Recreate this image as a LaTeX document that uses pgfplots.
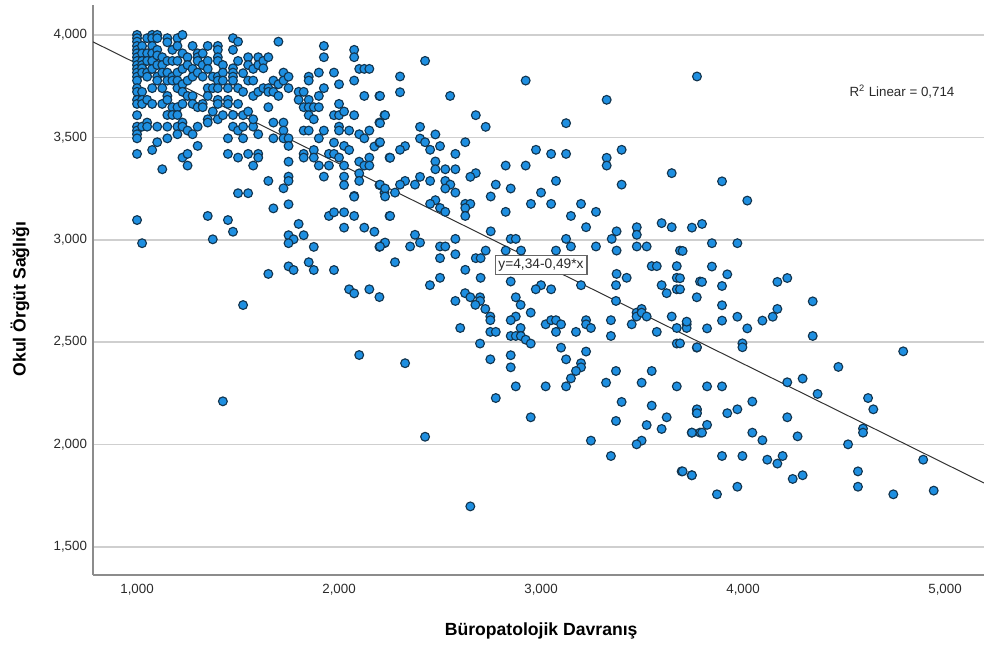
\documentclass[border=0pt]{standalone}
\usepackage{fontspec}
\setmainfont{Liberation Sans}
\usepackage{pgfplots}
\pgfplotsset{compat=1.18}
\definecolor{pt}{HTML}{1E8FE1}
\definecolor{ptedge}{HTML}{12354F}
\definecolor{gridc}{HTML}{CFCFCF}
\definecolor{axc}{HTML}{8C8C8C}
\definecolor{txt}{HTML}{2A2A2A}
\begin{document}
\begin{tikzpicture}[x=1pt,y=1pt]
\path[use as bounding box] (-69.75pt,-53.25pt) rectangle (668.25pt,431.25pt);
\begin{axis}[
 scale only axis, width=668.25pt, height=427.5pt,
 xmin=0.782, xmax=5.193, ymin=1.363, ymax=4.146,
 axis x line*=bottom, axis y line*=left,
 axis line style={axc, line width=1.2pt, -},
 ymajorgrids, grid style={gridc, line width=1.2pt},
 major tick length=0pt,
 xtick={1,2,3,4,5}, xticklabels={{1,000},{2,000},{3,000},{4,000},{5,000}},
 ytick={1.5,2,2.5,3,3.5,4}, yticklabels={{1,500},{2,000},{2,500},{3,000},{3,500},{4,000}},
 tick label style={font=\fontsize{10pt}{12pt}\selectfont, text=txt},
 xticklabel style={yshift=-3pt}, yticklabel style={xshift=-1pt},
 xlabel={Büropatolojik Davranış}, ylabel={Okul Örgüt Sağlığı},
 label style={font=\fontsize{13.2pt}{15pt}\selectfont\bfseries, text=black},
 xlabel style={at={(axis description cs:0.503,-0.098)}, anchor=center},
 ylabel style={at={(axis description cs:-0.082,0.484)}, anchor=center},
 clip=false,
]
\addplot[only marks, mark=*, mark size=3.3pt, mark options={fill=pt, draw=ptedge, line width=0.85pt}] coordinates {
(1,4)(1,3.984)(1,3.967)(1,3.946)(1,3.927)(1,3.91)(1,3.891)(1,3.873)(1,3.853)(1,3.834)(1,3.816)(1,3.796)(1,3.777)(1,3.74)(1,3.722)(1,3.683)(1,3.663)(1,3.608)(1,3.552)(1,3.533)(1,3.515)(1,3.495)(1,3.419)
(1.025,3.946)(1.025,3.91)(1.025,3.873)(1.025,3.853)(1.025,3.837)(1.025,3.816)(1.025,3.722)(1.025,3.683)(1.025,3.663)(1.025,3.552)
(1.05,3.984)(1.05,3.91)(1.05,3.873)(1.05,3.816)(1.05,3.796)(1.05,3.683)(1.05,3.572)(1.05,3.552)
(1.075,4)(1.075,3.984)(1.075,3.946)(1.075,3.91)(1.075,3.873)(1.075,3.834)(1.075,3.74)(1.075,3.663)(1.075,3.438)
(1.1,4)(1.1,3.984)(1.1,3.927)(1.1,3.9)(1.1,3.853)(1.1,3.796)(1.1,3.777)(1.1,3.552)(1.1,3.476)
(1.125,3.891)(1.125,3.853)(1.125,3.816)(1.125,3.74)(1.125,3.663)(1.125,3.344)
(1.15,3.984)(1.15,3.964)(1.15,3.873)(1.15,3.816)(1.15,3.777)(1.15,3.702)(1.15,3.683)(1.15,3.609)(1.15,3.552)(1.15,3.495)
(1.175,3.927)(1.175,3.873)(1.175,3.796)(1.175,3.777)(1.175,3.647)(1.175,3.609)
(1.2,3.984)(1.2,3.946)(1.2,3.873)(1.2,3.816)(1.2,3.777)(1.2,3.74)(1.2,3.647)(1.2,3.609)(1.2,3.552)(1.2,3.515)
(1.225,4)(1.225,3.91)(1.225,3.834)(1.225,3.759)(1.225,3.722)(1.225,3.663)(1.225,3.572)(1.225,3.552)(1.225,3.401)
(1.25,3.891)(1.25,3.853)(1.25,3.777)(1.25,3.702)(1.25,3.533)(1.25,3.419)(1.25,3.362)
(1.275,3.946)(1.275,3.834)(1.275,3.796)(1.275,3.702)(1.275,3.663)(1.275,3.515)
(1.3,3.91)(1.3,3.891)(1.3,3.873)(1.3,3.816)(1.3,3.647)(1.3,3.552)(1.3,3.458)
(1.325,3.91)(1.325,3.853)(1.325,3.796)(1.325,3.663)(1.325,3.647)
(1.35,3.946)(1.35,3.873)(1.35,3.834)(1.35,3.74)(1.35,3.702)(1.35,3.588)(1.35,3.572)
(1.375,3.796)(1.375,3.74)(1.375,3.626)
(1.4,3.946)(1.4,3.927)(1.4,3.891)(1.4,3.873)(1.4,3.796)(1.4,3.777)(1.4,3.74)(1.4,3.683)(1.4,3.663)(1.4,3.588)
(1.425,3.853)(1.425,3.816)(1.425,3.777)(1.425,3.608)
(1.45,3.74)(1.45,3.683)(1.45,3.663)(1.45,3.495)(1.45,3.419)
(1.475,3.984)(1.475,3.927)(1.475,3.837)(1.475,3.816)(1.475,3.796)(1.475,3.777)(1.475,3.609)(1.475,3.552)
(1.5,3.967)(1.5,3.873)(1.5,3.74)(1.5,3.663)(1.5,3.533)(1.5,3.401)
(1.525,3.813)(1.525,3.722)(1.525,3.608)(1.525,3.552)(1.525,3.495)
(1.55,3.891)(1.55,3.853)(1.55,3.777)(1.55,3.626)(1.55,3.419)
(1.575,3.834)(1.575,3.777)(1.575,3.702)(1.575,3.552)(1.575,3.588)(1.575,3.362)
(1.6,3.891)(1.6,3.853)(1.6,3.722)(1.6,3.515)(1.6,3.419)(1.6,3.401)
(1.625,3.873)(1.625,3.837)(1.625,3.74)
(1.65,3.891)(1.65,3.74)(1.65,3.722)(1.65,3.647)(1.65,3.287)
(1.675,3.777)(1.675,3.722)(1.675,3.572)(1.675,3.495)
(1.7,3.967)(1.7,3.759)(1.7,3.702)
(1.725,3.816)(1.725,3.777)(1.725,3.572)(1.725,3.533)(1.725,3.495)(1.725,3.251)
(1.75,3.796)(1.75,3.74)(1.75,3.495)(1.75,3.458)(1.75,3.381)(1.75,3.308)(1.75,3.287)
(1.8,3.722)(1.8,3.683)
(1.825,3.722)(1.825,3.647)(1.825,3.533)(1.825,3.419)(1.825,3.401)
(1.85,3.796)(1.85,3.777)(1.85,3.683)(1.85,3.647)(1.85,3.608)(1.85,3.533)
(1.875,3.647)(1.875,3.588)(1.875,3.438)(1.875,3.401)
(1.9,3.816)(1.9,3.702)(1.9,3.647)(1.9,3.495)(1.9,3.362)
(1.925,3.946)(1.925,3.891)(1.925,3.74)(1.925,3.533)(1.925,3.308)
(1.95,3.419)(1.95,3.362)
(1.975,3.816)(1.975,3.608)(1.975,3.474)(1.975,3.419)
(2,3.759)(2,3.663)(2,3.608)(2,3.552)(2,3.533)(2,3.401)
(2.025,3.626)(2.025,3.458)(2.025,3.362)(2.025,3.308)(2.025,3.267)
(2.05,3.533)(2.05,3.438)
(2.075,3.927)(2.075,3.891)(2.075,3.777)(2.075,3.608)(2.075,3.214)
(2.1,3.834)(2.1,3.515)(2.1,3.381)(2.1,3.324)(2.1,3.287)
(2.125,3.834)(2.125,3.702)(2.125,3.495)(2.125,3.362)
(2.15,3.834)(2.15,3.533)(2.15,3.401)(2.15,3.362)
(2.175,3.455)(2.2,3.702)(2.2,3.572)(2.2,3.474)(2.2,3.267)
(2.225,3.608)(2.225,3.23)(2.25,3.401)
(1.5,3.227)(1.55,3.227)(1.675,3.153)(1.75,3.173)(2.075,3.21)
(1,3.096)(1.35,3.116)(1.45,3.096)(1.475,3.039)(1.375,3.002)(1.025,2.983)(1.8,3.077)(1.75,3.022)(1.825,3.022)(1.775,3.002)(1.75,2.983)(1.875,2.965)(1.95,3.116)(1.975,3.134)(2.025,3.134)(2.075,3.116)(2.025,3.059)(2.125,3.059)(2.175,3.039)(2.25,3.116)(2.225,2.983)(2.2,2.965)(1.85,2.89)(1.75,2.87)(1.775,2.852)(1.875,2.852)(1.975,2.852)(1.65,2.833)(2.05,2.758)(2.075,2.738)(2.15,2.758)(2.2,2.72)(1.525,2.681)(2.1,2.437)(1.425,2.211)
(2.426,3.873)(2.302,3.797)(2.302,3.72)(2.203,3.702)(2.228,3.608)(2.203,3.569)(2.55,3.702)(2.924,3.777)(3.325,3.683)(2.677,3.608)(2.726,3.551)(3.124,3.569)(2.401,3.551)(2.477,3.514)(2.401,3.494)(2.426,3.476)(2.5,3.457)(2.451,3.439)(2.625,3.476)(2.576,3.419)(2.327,3.457)(2.302,3.439)(2.253,3.4)(2.203,3.476)(2.477,3.382)(2.477,3.344)(2.526,3.344)(2.576,3.344)(2.975,3.439)(3.05,3.419)(3.124,3.419)(3.325,3.4)(3.325,3.362)(3.399,3.439)(2.825,3.362)(2.924,3.362)(3.647,3.325)(2.677,3.325)(2.65,3.307)(2.401,3.307)(2.451,3.287)(2.526,3.287)(2.551,3.269)(2.526,3.25)(2.576,3.23)(2.376,3.269)(2.327,3.287)(2.302,3.269)(2.203,3.269)(2.228,3.25)(2.277,3.23)(2.228,3.211)(2.776,3.269)(2.85,3.25)(2.751,3.211)(3.074,3.287)(3.399,3.269)(3,3.23)(2.95,3.175)(3.05,3.175)(3.198,3.175)(2.477,3.193)(2.451,3.175)(2.5,3.155)(2.526,3.136)(2.625,3.175)(2.65,3.175)(2.625,3.155)(2.625,3.116)(2.253,3.116)(2.825,3.136)(3.148,3.116)(3.272,3.136)(3.223,3.061)(3.597,3.081)(3.647,3.061)(3.474,3.061)(3.474,3.024)(3.374,3.041)(3.35,3.004)(2.751,3.041)(2.376,3.024)(2.228,2.986)(2.203,2.967)(2.401,2.986)(2.352,2.967)(2.576,3.004)(2.5,2.967)(2.526,2.967)(2.85,3.004)(2.875,3.004)(3.124,3.004)(3.148,2.967)(3.272,2.967)(3.474,2.967)(3.523,2.967)(3.374,2.947)(2.726,2.947)(2.825,2.947)(2.901,2.947)(3.074,2.947)(3.688,2.947)(2.576,2.929)(2.5,2.91)(2.677,2.91)(2.701,2.91)(2.277,2.89)(2.625,2.853)(2.5,2.814)(2.701,2.814)(3.374,2.833)(3.424,2.814)(3.548,2.871)(3.573,2.871)(3.672,2.871)(3.672,2.814)
(2.45,2.778)(2.85,2.796)(3,2.778)(2.974,2.758)(3.05,2.758)(3.198,2.778)(3.371,2.778)(3.597,2.778)(3.622,2.739)(3.672,2.758)(3.787,2.796)(3.771,2.719)(2.624,2.739)(2.65,2.719)(2.576,2.701)(2.698,2.719)(2.698,2.701)(2.675,2.682)(2.724,2.662)(2.749,2.625)(2.749,2.607)(2.875,2.719)(2.899,2.682)(2.949,2.644)(2.875,2.625)(2.85,2.607)(3.023,2.587)(3.05,2.607)(3.074,2.607)(3.099,2.587)(3.074,2.55)(2.899,2.569)(2.6,2.569)(2.749,2.55)(2.776,2.55)(2.85,2.53)(2.875,2.53)(2.9,2.53)(2.924,2.512)(2.949,2.493)(2.698,2.493)(3.173,2.55)(3.223,2.607)(3.223,2.587)(3.247,2.569)(3.346,2.607)(3.346,2.53)(3.371,2.701)(3.449,2.587)(3.473,2.644)(3.473,2.625)(3.498,2.662)(3.498,2.644)(3.523,2.625)(3.573,2.55)(3.647,2.625)(3.672,2.569)(3.721,2.587)(3.721,2.569)(3.672,2.493)(3.771,2.473)(3.099,2.473)(3.223,2.454)(3.124,2.416)(3.198,2.397)(3.198,2.377)(3.173,2.359)(3.148,2.323)(3.124,2.284)(3.023,2.284)(2.875,2.284)(2.749,2.416)(2.85,2.436)(2.85,2.377)(2.327,2.397)(2.776,2.227)(2.949,2.133)(2.426,2.038)(2.65,1.698)(3.371,2.359)(3.322,2.302)(3.498,2.302)(3.548,2.359)(3.672,2.284)(3.399,2.208)(3.548,2.19)(3.771,2.169)(3.771,2.153)(3.622,2.133)(3.371,2.115)(3.523,2.095)(3.597,2.076)(3.746,2.058)(3.787,2.058)(3.247,2.019)(3.498,2.019)(3.473,2.001)(3.346,1.944)(3.696,1.869)(3.746,1.85)
(3.772,3.797)(3.896,3.285)(4.021,3.191)(3.747,3.059)(3.797,3.077)(3.701,2.945)(3.846,2.983)(3.972,2.983)(3.846,2.869)(3.922,2.831)(3.797,2.794)(3.896,2.774)(4.17,2.794)(4.219,2.813)(4.345,2.699)(3.896,2.68)(4.17,2.662)(4.147,2.624)(4.096,2.605)(3.972,2.624)(3.896,2.605)(4.021,2.567)(3.822,2.567)(3.721,2.6)(4.345,2.53)(3.688,2.812)(3.688,2.758)
(3.997,2.494)(3.997,2.475)(3.772,2.475)(4.793,2.455)(4.472,2.379)(4.295,2.322)(4.219,2.304)(4.369,2.247)(3.822,2.284)(3.896,2.284)(4.619,2.227)(4.645,2.172)(4.046,2.21)(3.972,2.172)(3.922,2.153)(3.772,2.172)(3.772,2.153)(4.219,2.133)(3.822,2.096)(3.747,2.058)(3.797,2.058)(4.046,2.058)(4.096,2.021)(4.27,2.04)(4.594,2.078)(4.594,2.058)(4.52,2.001)(4.892,1.926)(3.896,1.944)(3.997,1.944)(4.12,1.926)(4.196,1.944)(4.17,1.907)(3.701,1.869)(3.747,1.85)(4.246,1.832)(4.295,1.85)(4.569,1.869)(3.972,1.794)(3.871,1.757)(4.569,1.794)(4.744,1.757)(4.944,1.775)(3.688,2.494)
};
\addplot[no marks, color=black!80, line width=0.75pt] coordinates {(0.782,3.966)(5.193,1.812)};
\node[draw=black!60, fill=white, line width=0.9pt, inner sep=2.5pt, font=\fontsize{10.3pt}{12pt}\selectfont, text=txt] at (axis cs:3,2.875) {y=4,34-0,49*x};
\node[font=\fontsize{10pt}{12pt}\selectfont, text=txt] at (axis cs:4.787,3.722) {R\textsuperscript{2} Linear = 0,714};
\end{axis}
\end{tikzpicture}
\end{document}
